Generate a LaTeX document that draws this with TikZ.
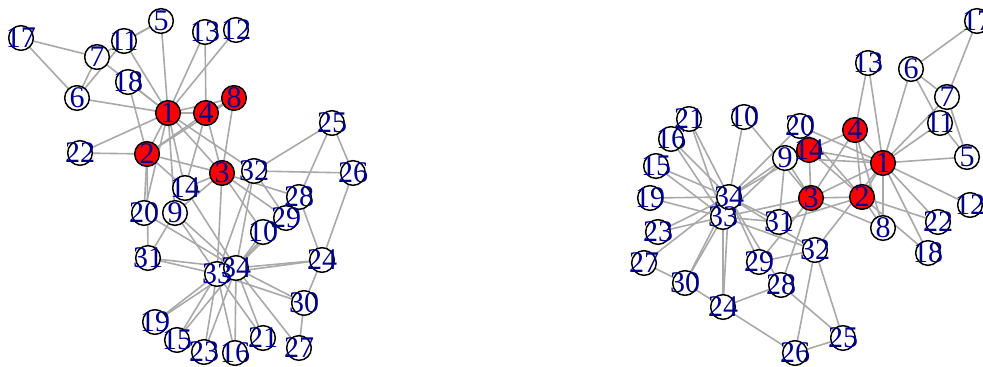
\documentclass[tikz,border=0pt]{standalone}
\usepackage{fontspec}
\setmainfont{Liberation Serif}
\pgfdeclarelayer{bg}
\pgfsetlayers{bg,main}
\definecolor{edgegray}{HTML}{A9A9A9}
\definecolor{lblblue}{RGB}{0,0,139}
\tikzset{
  vtx/.style={circle, draw=black, line width=1.1pt, minimum size=18.5pt, inner sep=0pt},
  lbl/.style={inner sep=0pt, text=lblblue, font=\fontsize{22.5}{22.5}\selectfont},
  edge/.style={draw=edgegray, line width=1.2pt},
}
\begin{document}
\begin{tikzpicture}[x=0.75pt,y=-0.75pt]
\useasboundingbox (0,0) rectangle (983,367);
\clip (0,0) rectangle (983,367);
% left graph vertices
\foreach \n/\x/\y/\c in {
1/168/113/red, 2/147/154/red, 3/222/173/red, 4/206/113/red, 5/161/21/white,
6/77/98/white, 7/97/57/white, 8/234/98/red, 9/175/213/white, 10/263/232/white,
11/124/41/white, 12/236/30/white, 13/205/32/white, 14/185/188/white, 15/177/340/white,
16/235/353/white, 17/21/38/white, 18/128/82/white, 19/155/322/white, 20/144/213/white,
21/263/338/white, 22/80/153/white, 23/204/352/white, 24/322/260/white, 25/332/123/white,
26/353/173/white, 27/299/348/white, 28/299/197/white, 29/286/218/white, 30/304/303/white,
31/148/258/white, 32/254/171/white, 33/217/274/white, 34/236/268/white}
  \node[vtx, fill=\c] (L\n) at (\x,\y) {};
% right graph vertices
\foreach \n/\x/\y/\c in {
1/883/163/red, 2/862/197/red, 3/811/198/red, 4/855/130/red, 5/967/157/white,
6/911/69/white, 7/947/97/white, 8/883/228/white, 9/785/158/white, 10/744/117/white,
11/940/123/white, 12/970/205/white, 13/868/63/white, 14/809/150/red, 15/656/166/white,
16/671/139/white, 17/977/21/white, 18/928/253/white, 19/650/198/white, 20/800/126/white,
21/689/119/white, 22/938/222/white, 23/658/232/white, 24/723/307/white, 25/843/338/white,
26/795/353/white, 27/644/263/white, 28/781/285/white, 29/759/262/white, 30/685/283/white,
31/779/222/white, 32/815/250/white, 33/723/217/white, 34/729/197/white}
  \node[vtx, fill=\c] (R\n) at (\x,\y) {};
% labels
\foreach \n in {1,...,34} {
  \node[lbl] (Lt\n) at (L\n.center) {\n};
  \node[lbl] (Rt\n) at (R\n.center) {\n};
}
% edges
\begin{pgfonlayer}{bg}
\foreach \a/\b in {1/2,1/3,1/4,1/5,1/6,1/7,1/8,1/9,1/11,1/12,1/13,1/14,1/18,1/20,1/22,1/32,
2/3,2/4,2/8,2/14,2/18,2/20,2/22,2/31,
3/4,3/8,3/9,3/10,3/14,3/28,3/29,3/33,
4/8,4/13,4/14,5/7,5/11,6/7,6/11,6/17,7/17,
9/31,9/33,9/34,10/34,14/34,15/33,15/34,16/33,16/34,19/33,19/34,20/34,
21/33,21/34,23/33,23/34,24/26,24/28,24/30,24/33,24/34,25/26,25/28,25/32,26/32,
27/30,27/34,28/34,29/32,29/34,30/33,30/34,31/33,31/34,32/33,32/34,33/34} {
  \draw[edge] (L\a.center) -- (L\b.center);
  \draw[edge] (R\a.center) -- (R\b.center);
}
\end{pgfonlayer}
\end{tikzpicture}
\end{document}
